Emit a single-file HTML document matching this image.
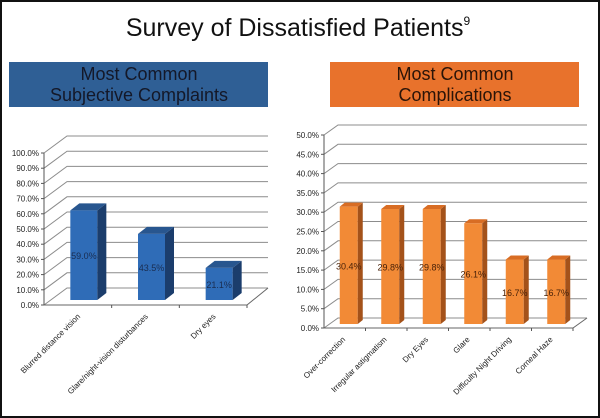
<!DOCTYPE html>
<html><head><meta charset="utf-8"><style>
html,body{margin:0;padding:0;background:#fff}
svg{display:block;font-family:"Liberation Sans",sans-serif}
</style></head><body>
<svg width="600" height="418" viewBox="0 0 600 418">
<rect x="1" y="1" width="598" height="416" fill="#fff" stroke="#111" stroke-width="2"/>
<text x="298" y="36" font-size="25" text-anchor="middle" fill="#111">Survey of Dissatisfied Patients<tspan font-size="12" dy="-11">9</tspan></text>
<g>
<rect x="9" y="62" width="259" height="45" fill="#2f5f95"/>
<text x="139" y="80" font-size="18" text-anchor="middle" fill="#141828">Most Common</text>
<text x="139" y="101" font-size="18" text-anchor="middle" fill="#141828">Subjective Complaints</text>
</g>
<g>
<rect x="330" y="62" width="249" height="45" fill="#e8722c"/>
<text x="455" y="80" font-size="18" text-anchor="middle" fill="#2a1408">Most Common</text>
<text x="455" y="101" font-size="18" text-anchor="middle" fill="#2a1408">Complications</text>
</g>
<g id="left"></g>
<g id="right"></g>
</svg>
<script>
const leftCategories = ["Blurred distance vision","Glare/night-vision disturbances","Dry eyes"];
const leftValues = [59.0, 43.5, 21.1];
const leftLabels = ["59.0%","43.5%","21.1%"];
const leftTicks = [0,10,20,30,40,50,60,70,80,90,100];

const rightCategories = ["Over-correction","Irregular astigmatism","Dry Eyes","Glare","Difficulty Night Driving","Corneal Haze"];
const rightValues = [30.4, 29.8, 29.8, 26.1, 16.7, 16.7];
const rightLabels = ["30.4%","29.8%","29.8%","26.1%","16.7%","16.7%"];
const rightTicks = [0,5,10,15,20,25,30,35,40,45,50];

const NS="http://www.w3.org/2000/svg";
function mk(parent,tag,attrs){const e=document.createElementNS(NS,tag);for(const k in attrs)e.setAttribute(k,attrs[k]);parent.appendChild(e);return e;}

function chart(g,cfg){
  const {x0,x1,y0,max,pxPer,dx,dy,cats,vals,labs,ticks,bw,bdx,bdy,cols,lift,shift,tickFs}=cfg;
  const y=v=>y0-v*pxPer;
  const step=(x1-x0)/cats.length;
  ticks.forEach(t=>{
    const yy=y(t);
    const gl=mk(g,'path',{d:`M${x0} ${yy} L${x0+dx} ${yy+dy} L${cfg.backRight} ${yy+dy}`,fill:'none',stroke:'#8c8c8c','stroke-width':1});
    
    
    const tk=mk(g,'line',{x1:x0-3,y1:yy,x2:x0,y2:yy,stroke:'#555'});
    
    
    const tl=mk(g,'text',{x:x0-5,y:yy+3,'font-size':tickFs,'text-anchor':'end',fill:'#222'});
    tl.textContent=t.toFixed(1)+'%';
    
    
  });
  const ya=mk(g,'line',{x1:x0,y1:y(0),x2:x0,y2:y(max),stroke:'#555'});
  
  
  const floor=mk(g,'path',{d:`M${x0} ${y0} L${x1} ${y0} L${cfg.backRight} ${y0+dy}`,fill:'none',stroke:'#666'});
  
  
  cats.forEach((c,i)=>{
    const tx=x0+step*(i+1);
    mk(g,'line',{x1:tx,y1:y0,x2:tx,y2:y0+3,stroke:'#555'});
    const cx=x0+step*(i+0.5)+shift;
    const base=y0-lift, top=y(vals[i])-lift;
    const bar=mk(g,'g',{});
    
    
    const lx=cx-bw/2, rx=cx+bw/2;
    mk(bar,'rect',{x:lx,y:top,width:bw,height:base-top,fill:cols[0]});
    mk(bar,'path',{d:`M${rx} ${top} L${rx+bdx} ${top+bdy} L${rx+bdx} ${base+bdy} L${rx} ${base} Z`,fill:cols[1]});
    mk(bar,'path',{d:`M${lx} ${top} L${lx+bdx} ${top+bdy} L${rx+bdx} ${top+bdy} L${rx} ${top} Z`,fill:cols[2]});
    const vl=mk(g,'text',{x:cx,y:(base+top)/2+4,'font-size':cfg.valFs,'text-anchor':'middle',fill:cols[3]});
    vl.textContent=labs[i];
    
    
    const ax=cx-3, ay=y0+12;
    const cl=mk(g,'text',{x:ax,y:ay,'font-size':tickFs,'text-anchor':'end',fill:'#222',transform:`rotate(-45 ${ax} ${ay})`});
    cl.textContent=c;
    
    
  });
}
chart(document.getElementById('left'),{x0:44,x1:247,backRight:268,y0:305,max:100,pxPer:1.52,dx:23,dy:-17,
  cats:leftCategories,vals:leftValues,labs:leftLabels,ticks:leftTicks,bw:27,bdx:9,bdy:-7,lift:5,shift:6,
  cols:['#2f6cb7','#1b3d6c','#28568f','#1a2d50'],tickFs:8,valFs:9});
chart(document.getElementById('right'),{x0:324,x1:573,backRight:587,y0:328,max:50,pxPer:3.86,dx:14,dy:-10,
  cats:rightCategories,vals:rightValues,labs:rightLabels,ticks:rightTicks,bw:18,bdx:5,bdy:-4,lift:4,shift:4,
  cols:['#f28a36','#a4521a','#d86d24','#4a2208'],tickFs:8,valFs:9});
</script>
</body></html>
